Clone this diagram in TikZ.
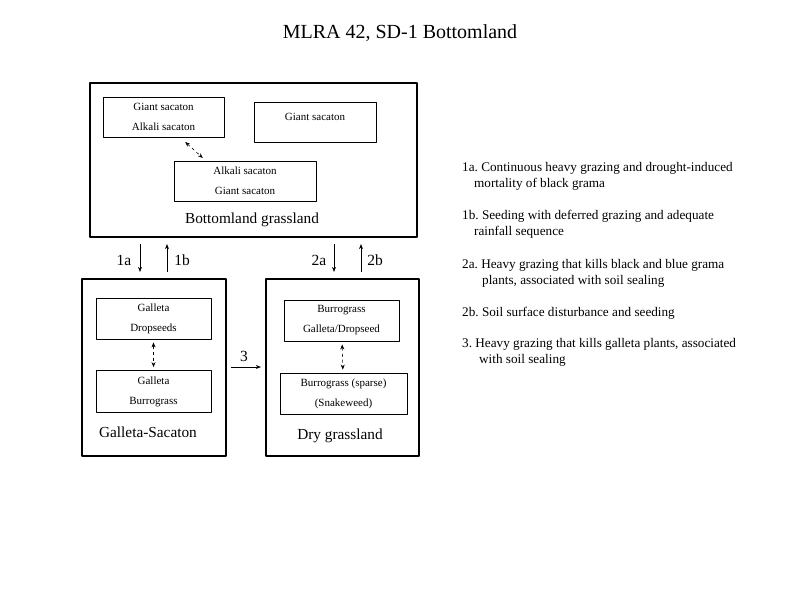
\documentclass[tikz,border=0pt]{standalone}
\usepackage{fontspec}
\setmainfont{Liberation Serif}
\usetikzlibrary{arrows.meta}
\begin{document}
\frenchspacing
\begin{tikzpicture}[x=1pt,y=-1pt,>={Stealth[length=5pt,width=4pt]}, line join=round,
	outer/.style={draw,line width=2.2pt,inner sep=0pt},
	inner/.style={draw,line width=0.8pt,inner sep=0pt,align=center,font=\fontsize{11}{20}\selectfont},
	title/.style={inner sep=0pt,font=\fontsize{15.3}{17}\selectfont},
	step label/.style={inner sep=0pt,font=\fontsize{15.5}{17}\selectfont},
	legend/.style={inner sep=0pt,anchor=north west,align=left,font=\fontsize{13.2}{16}\selectfont},
	switch/.style={<->,dashed,line width=0.6pt,shorten <=3pt,shorten >=3pt}]
	\useasboundingbox (0,0) rectangle (800,600);
	%Tiêu đề
	\node[inner sep=0pt,font=\fontsize{20}{22}\selectfont] (heading) at (400,33) {MLRA 42, SD-1 Bottomland};
	%Bottomland grassland
	\node[outer,minimum width=327pt,minimum height=154pt] (bottomland) at (253.5,160) {};
	\node[inner,minimum width=121pt,minimum height=40pt] (gsas) at (163.5,117) {Giant sacaton\\Alkali sacaton};
	\node[inner,minimum width=122pt,minimum height=40pt] (gs) at (315,122) {\raisebox{10pt}{Giant sacaton}};
	\node[inner,minimum width=142pt,minimum height=40pt] (asgs) at (245,181) {Alkali sacaton\\Giant sacaton};
	\node[title] (bname) at (252,220) {Bottomland grassland};
	\draw[switch] (183,140) -- (205,160);
	%Galleta-Sacaton
	\node[outer,minimum width=144pt,minimum height=177pt] (galleta) at (154,367.5) {};
	\node[inner,minimum width=115pt,minimum height=41pt] (gd) at (153.5,318.5) {Galleta\\Dropseeds};
	\node[inner,minimum width=115pt,minimum height=42pt] (gb) at (153.5,391.5) {Galleta\\Burrograss};
	\node[title] (gname) at (148,432) {Galleta-Sacaton};
	\draw[switch] (gd) -- (gb);
	%Dry grassland
	\node[outer,minimum width=153pt,minimum height=177pt] (dry) at (342.5,367.5) {};
	\node[inner,minimum width=115pt,minimum height=41pt] (bgd) at (341.5,320.5) {Burrograss\\Galleta/Dropseed};
	\node[inner,minimum width=127pt,minimum height=41pt] (bs) at (343.5,393.5) {Burrograss (sparse)\\(Snakeweed)};
	\node[title] (dname) at (340,436) {Dry grassland};
	\draw[switch] (bgd) -- (bs);
	%Chuyển trạng thái
	\coordinate (x1a) at (140,0); \coordinate (x1b) at (167,0);
	\coordinate (x2a) at (334,0); \coordinate (x2b) at (361,0);
	\draw[->,line width=0.9pt,shorten <=6pt,shorten >=6pt] (bottomland.south -| x1a) -- (galleta.north -| x1a);
	\draw[->,line width=0.9pt,shorten <=6pt,shorten >=6pt] (galleta.north -| x1b) -- (bottomland.south -| x1b);
	\draw[->,line width=0.9pt,shorten <=6pt,shorten >=6pt] (bottomland.south -| x2a) -- (dry.north -| x2a);
	\draw[->,line width=0.9pt,shorten <=6pt,shorten >=6pt] (dry.north -| x2b) -- (bottomland.south -| x2b);
	\draw[->,line width=0.9pt,shorten <=4pt,shorten >=4pt] (galleta.east |- 0,367) -- (dry.west |- 0,367);
	\node[step label] (l1a) at (124,260) {1a};
	\node[step label] (l1b) at (182,260) {1b};
	\node[step label] (l2a) at (319,260) {2a};
	\node[step label] (l2b) at (375,260) {2b};
	\node[step label] (l3) at (244,356) {3};
	%Chú thích
	\node[legend] (n1a) at (462,162) {1a. Continuous heavy grazing and drought-induced\\\hspace*{12pt}mortality of black grama};
	\node[legend] (n1b) at (462,210) {1b. Seeding with deferred grazing and adequate\\\hspace*{12pt}rainfall sequence};
	\node[legend] (n2a) at (462,259) {2a. Heavy grazing that kills black and blue grama\\\hspace*{20pt}plants, associated with soil sealing};
	\node[legend] (n2b) at (462,307) {2b. Soil surface disturbance and seeding};
	\node[legend] (n3) at (462,338) {3. Heavy grazing that kills galleta plants, associated\\\hspace*{17pt}with soil sealing};
\end{tikzpicture}
\end{document}
